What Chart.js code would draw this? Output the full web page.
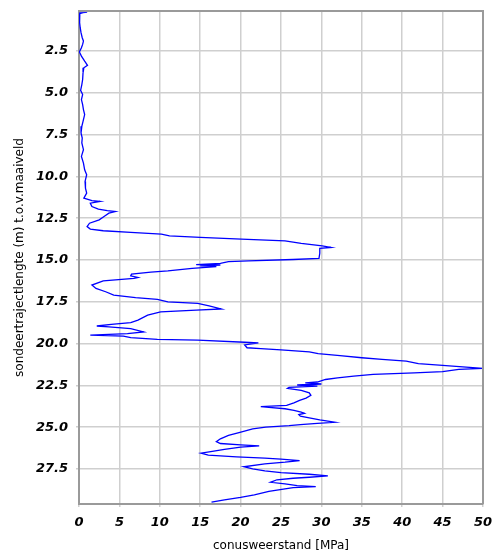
<!DOCTYPE html>
<html>
<head>
<meta charset="utf-8">
<script src="https://cdn.jsdelivr.net/npm/chart.js@4.4.1/dist/chart.umd.min.js"></script>
<style>
  body { margin: 0; background: #fff; }
  #wrap { width: 494px; height: 557px; }
</style>
</head>
<body>
<div id="wrap"><canvas id="sondering"></canvas></div>
<script>
// diepte (m) en conusweerstand (MPa)
var depth = [
    0.10, 0.15, 0.17, 0.20, 0.25, 0.50, 0.80, 1.10, 1.40, 1.70,
    1.90, 2.10, 2.30, 2.55, 2.80, 3.10, 3.35, 3.50, 3.80, 4.20,
    4.50, 4.85, 5.10, 5.40, 5.70, 6.00, 6.30, 6.70, 7.00, 7.40,
    7.70, 8.00, 8.40, 8.80, 9.20, 9.60, 9.90, 10.30, 10.70, 11.00,
    11.30, 11.45, 11.50, 11.60, 11.80, 11.95, 12.05, 12.10, 12.20, 12.40,
    12.60, 12.80, 13.00, 13.15, 13.25, 13.35, 13.45, 13.55, 13.65, 13.75,
    13.85, 14.00, 14.15, 14.25, 14.30, 14.60, 14.90, 14.97, 15.05, 15.10,
    15.20, 15.28, 15.30, 15.35, 15.40, 15.50, 15.65, 15.72, 15.85, 15.95,
    16.05, 16.10, 16.25, 16.50, 16.70, 16.90, 17.10, 17.25, 17.35, 17.50,
    17.60, 17.75, 17.93, 18.00, 18.10, 18.30, 18.60, 18.75, 18.85, 18.95,
    19.00, 19.10, 19.30, 19.40, 19.50, 19.55, 19.65, 19.75, 19.80, 19.92,
    19.96, 20.08, 20.25, 20.30, 20.38, 20.50, 20.60, 20.72, 20.85, 20.95,
    21.05, 21.20, 21.30, 21.40, 21.48, 21.55, 21.68, 21.75, 21.84, 21.95,
    22.05, 22.15, 22.30, 22.35, 22.42, 22.48, 22.55, 22.62, 22.68, 22.80,
    22.95, 23.10, 23.26, 23.40, 23.55, 23.70, 23.77, 23.82, 23.90, 24.00,
    24.10, 24.17, 24.25, 24.35, 24.45, 24.57, 24.65, 24.71, 24.77, 24.85,
    24.91, 25.00, 25.10, 25.33, 25.50, 25.70, 25.87, 25.98, 26.06, 26.12,
    26.20, 26.33, 26.45, 26.56, 26.68, 26.78, 26.85, 26.92, 27.00, 27.10,
    27.20, 27.37, 27.50, 27.62, 27.72, 27.82, 27.92, 28.00, 28.06, 28.15,
    28.30, 28.40, 28.50, 28.56, 28.62, 28.70, 28.85, 29.05, 29.20, 29.35,
    29.49
];
var qc = [
    0.10, 0.10, 1.00, 0.50, 0.10, 0.05, 0.10, 0.15, 0.25, 0.40,
    0.55, 0.45, 0.30, 0.05, 0.30, 0.70, 1.05, 0.60, 0.50, 0.45,
    0.35, 0.20, 0.45, 0.30, 0.45, 0.55, 0.70, 0.50, 0.35, 0.25,
    0.40, 0.35, 0.55, 0.30, 0.55, 0.70, 0.95, 0.75, 0.80, 0.95,
    0.60, 1.60, 2.60, 1.40, 1.60, 2.40, 3.50, 4.50, 3.70, 3.10,
    2.50, 1.30, 1.00, 1.40, 3.00, 6.40, 10.2, 11.2, 15.0, 20.1,
    25.5, 27.5, 30.1, 31.2, 29.8, 29.8, 29.7, 26.5, 21.0, 18.5,
    17.5, 14.5, 17.5, 15.0, 17.0, 14.0, 11.0, 8.90, 6.50, 6.40,
    7.30, 6.80, 3.00, 1.60, 2.10, 3.30, 4.30, 7.00, 9.70, 11.0,
    14.7, 16.1, 17.6, 14.5, 10.1, 8.50, 7.30, 6.40, 4.00, 2.20,
    3.70, 6.40, 8.00, 6.00, 1.40, 5.50, 6.40, 9.70, 14.7, 20.5,
    22.2, 20.5, 20.8, 22.5, 25.0, 28.5, 29.6, 32.3, 35.0, 37.5,
    40.5, 42.0, 45.0, 47.5, 50.0, 47.0, 45.0, 41.5, 36.4, 34.0,
    32.0, 30.5, 29.5, 28.0, 30.0, 27.0, 29.5, 26.0, 25.8, 27.5,
    28.5, 28.7, 28.1, 27.3, 26.6, 25.7, 22.5, 23.5, 25.5, 26.6,
    27.5, 27.9, 27.2, 27.4, 28.5, 29.8, 31.0, 31.7, 29.5, 27.4,
    26.0, 23.1, 21.5, 19.8, 18.5, 17.5, 17.0, 17.5, 20.0, 22.3,
    20.0, 18.0, 16.5, 15.1, 16.0, 19.5, 23.0, 25.0, 27.3, 25.5,
    23.0, 20.4, 21.5, 23.0, 25.0, 28.5, 30.8, 28.5, 26.5, 24.5,
    23.7, 25.5, 27.0, 29.3, 26.5, 25.5, 23.5, 21.7, 20.0, 18.0,
    16.4
];
// tick-indeling van de assen
var xMin = 0, xMax = 50, xStep = 5;
var yMin = 0.1, yMax = 29.6, yStep = 2.5;

var points = depth.map(function (d, i) {
    return { x: qc[i], y: d };
});

var tickFont = { family: 'DejaVu Sans', size: 13, weight: 'bold', style: 'italic' };
var titleFont = { family: 'DejaVu Sans', size: 12 };
var frameColor = '#9a9a9a';

// boven- en rechterrand van het kader
var framePlugin = {
    id: 'plotFrame',
    afterDraw: function (chart) {
        var a = chart.chartArea;
        var c = chart.ctx;
        c.save();
        c.strokeStyle = frameColor;
        c.lineWidth = 2;
        c.beginPath();
        c.moveTo(a.left, a.top);
        c.lineTo(a.right, a.top);
        c.lineTo(a.right, a.bottom);
        c.stroke();
        c.restore();
    }
};

var ctx = document.getElementById('sondering').getContext('2d');
var chart = new Chart(ctx, {
    type: 'scatter',
    data: {
        datasets: [{
            data: points,
            showLine: true,
            borderColor: '#0000ff',
            borderWidth: 1.3,
            pointRadius: 0,
            tension: 0
        }]
    },
    options: {
        responsive: true,
        maintainAspectRatio: false,
        animation: false,
        layout: { padding: { left: 9, right: 11, top: 11, bottom: 0 } },
        plugins: {
            legend: { display: false },
            tooltip: { enabled: false }
        },
        scales: {
            x: {
                type: 'linear',
                min: xMin,
                max: xMax,
                afterFit: function (scale) {
                    scale.height = 53;
                    scale.paddingRight = 0;
                    scale.paddingLeft = 0;
                },
                ticks: { font: tickFont, color: '#000', padding: 8, maxRotation: 0, stepSize: xStep },
                grid: { color: '#cfcfcf', lineWidth: 1.5, tickLength: 3 },
                border: { color: frameColor, width: 2 },
                title: { display: true, text: 'conusweerstand [MPa]', font: titleFont, color: '#000' }
            },
            y: {
                type: 'linear',
                reverse: true,
                min: yMin,
                max: yMax,
                afterFit: function (scale) {
                    scale.width = 70;
                    scale.paddingTop = 0;
                    scale.paddingBottom = 0;
                },
                ticks: {
                    font: tickFont,
                    color: '#000',
                    padding: 8,
                    stepSize: yStep,
                    includeBounds: false,
                    callback: function (v) { return Number(v).toFixed(1); }
                },
                grid: { color: '#cfcfcf', lineWidth: 1.5, tickLength: 3 },
                border: { color: frameColor, width: 2 },
                title: { display: true, text: 'sondeertrajectlengte (m) t.o.v.maaiveld', font: titleFont, color: '#000' }
            }
        }
    },
    plugins: [framePlugin]
});
</script>
</body>
</html>
